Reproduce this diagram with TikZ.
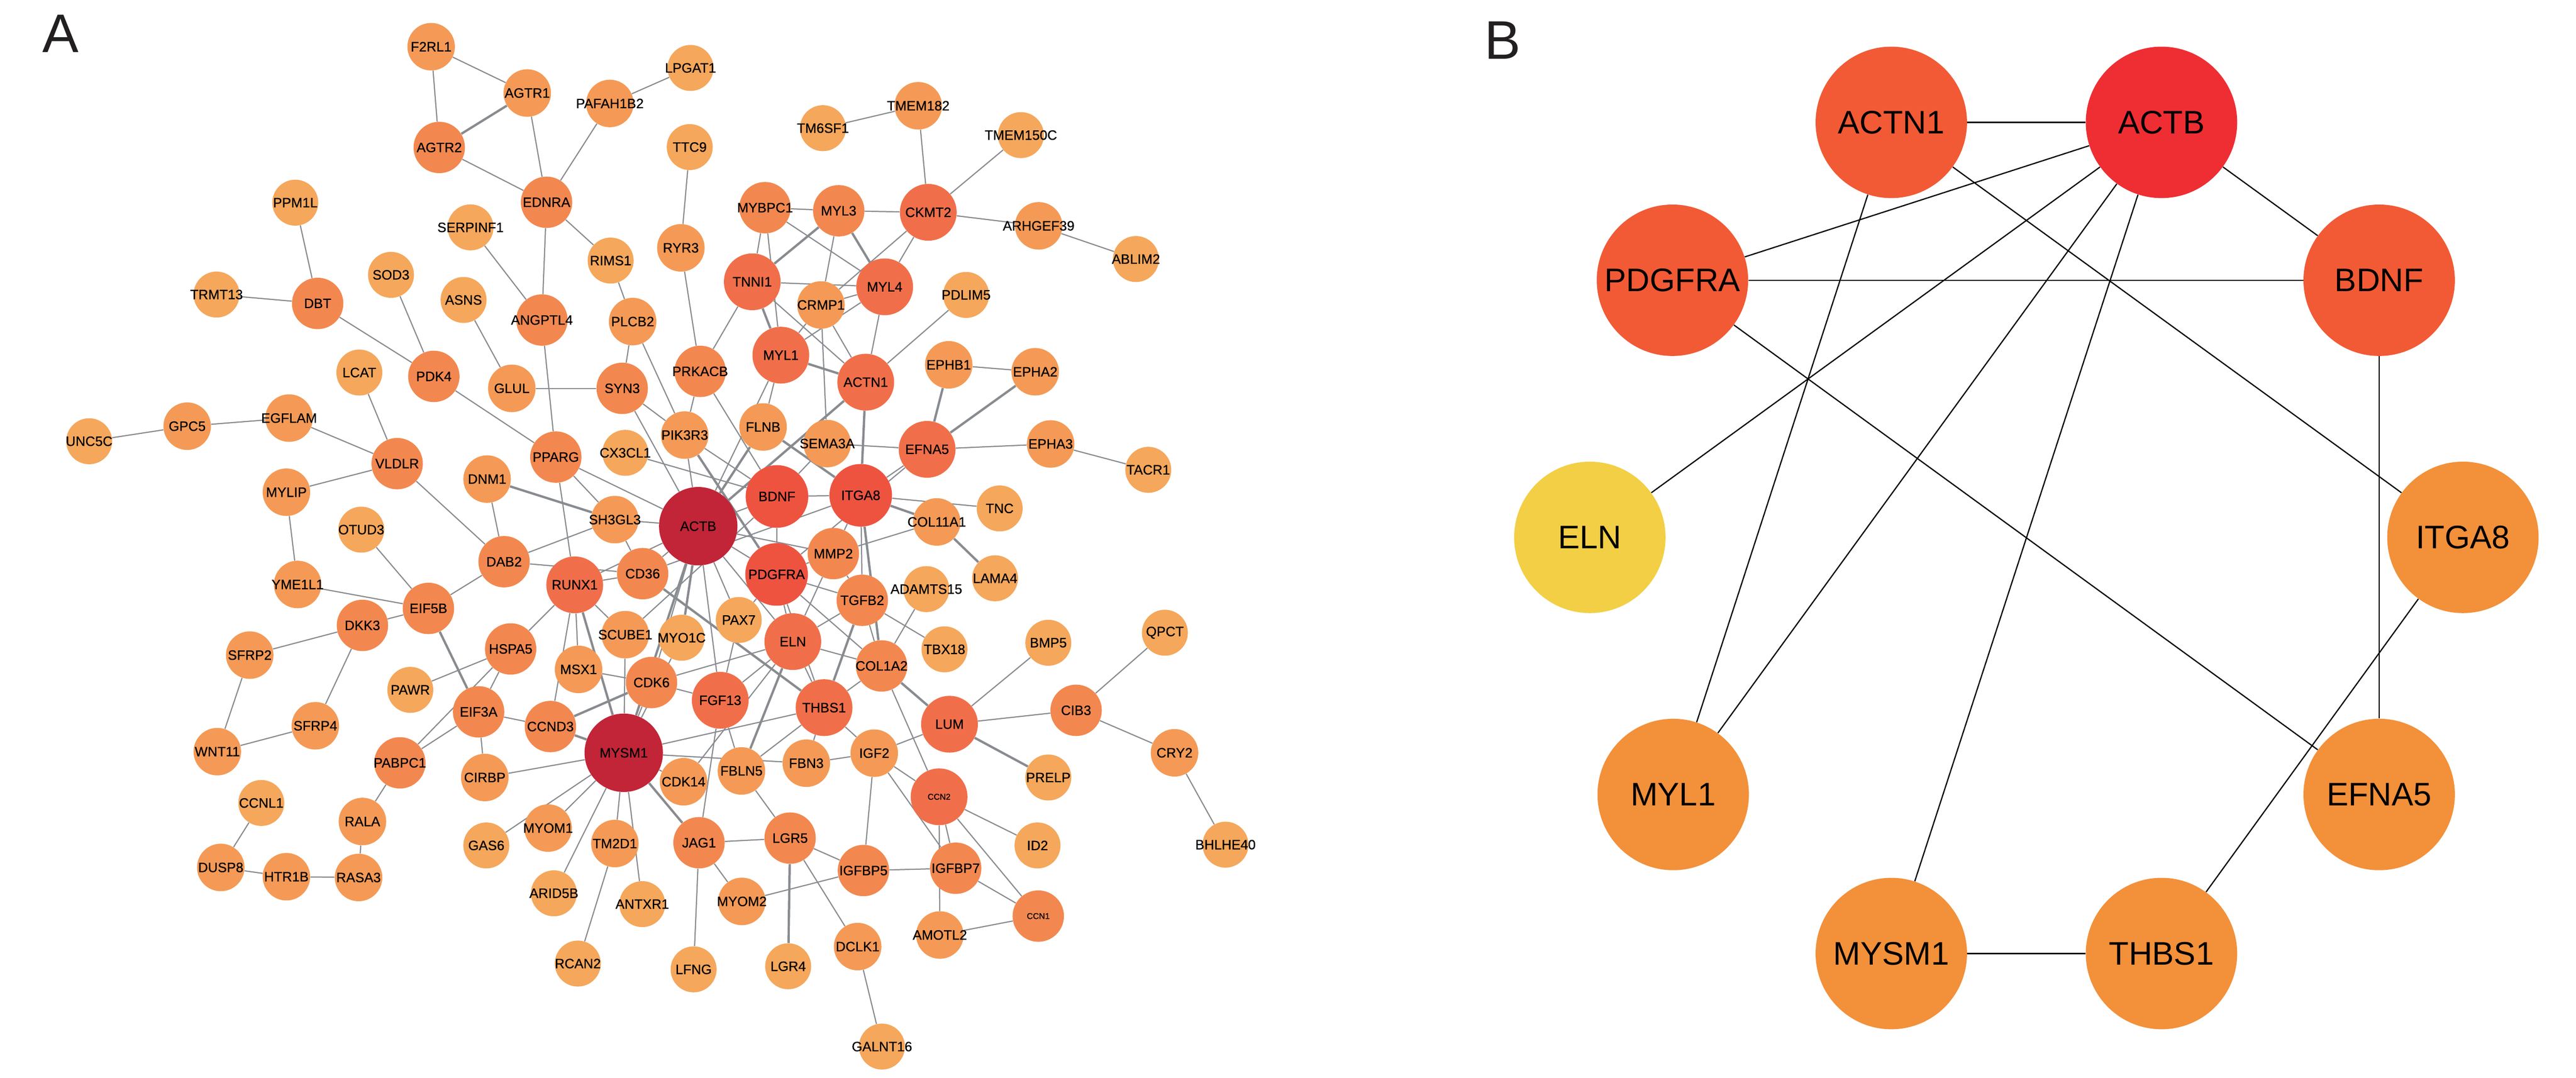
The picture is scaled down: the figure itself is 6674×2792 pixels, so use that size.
\documentclass[tikz,border=0pt]{standalone}
\usepackage{fontspec}
\setmainfont{Liberation Sans}
\newfontfamily\genefont[FakeBold=0.6]{Liberation Sans}
\usepackage{tikz}
\usetikzlibrary{backgrounds}
\definecolor{cHub}{HTML}{C12537}
\definecolor{cHi}{HTML}{EE5340}
\definecolor{cRd}{HTML}{F06F4A}
\definecolor{cOr}{HTML}{F2884F}
\definecolor{cMi}{HTML}{F49A56}
\definecolor{cLo}{HTML}{F5A75C}
\definecolor{cEdge}{HTML}{888B8F}
\definecolor{cLetter}{HTML}{231F20}
\definecolor{bRed}{HTML}{EE2E33}
\definecolor{bOrange}{HTML}{F15A35}
\definecolor{bAmber}{HTML}{F3903A}
\definecolor{bYellow}{HTML}{F3CF45}
\tikzset{
    gene/.style={circle,inner sep=0pt,text=black,font=\genefont\fontsize{10}{12}\selectfont,
        execute at begin node=\hbox to 0pt\bgroup\hss,execute at end node=\hss\egroup},
    pale/.style={gene,fill=cLo,minimum size=1.19cm},
    midtone/.style={gene,fill=cMi,minimum size=1.23cm},
    warm/.style={gene,fill=cOr,minimum size=1.33cm},
    hot/.style={gene,fill=cRd,minimum size=1.47cm},
    hotter/.style={gene,fill=cHi,minimum size=1.62cm},
    hub/.style={gene,fill=cHub,minimum size=2.03cm},
    smallfont/.style={font=\genefont\fontsize{6.2}{7}\selectfont},
    link/.style={draw=cEdge,line width=0.85pt},
    strong/.style={draw=cEdge,line width=1.7pt},
    bnode/.style={circle,inner sep=0pt,minimum size=3.92cm,text=black,font=\fontsize{24}{28}\selectfont},
    blink/.style={draw=black,line width=0.9pt},
    panel/.style={inner sep=0pt,anchor=base west,text=cLetter,font=\fontsize{40}{48}\selectfont},
}
\begin{document}
\begin{tikzpicture}[x=0.01cm,y=-0.01cm]
    \useasboundingbox (0,0) rectangle (6674,2792);
    \node[panel] (labA) at (110,136) {A};
    \node[panel] (labB) at (3845,153) {B};

    % panel A
    \node[midtone] (f2rl1) at (1117,121) {F2RL1};
    \node[midtone] (agtr1) at (1366,241) {AGTR1};
    \node[warm] (agtr2) at (1138,382) {AGTR2};
    \node[midtone] (pafah1b2) at (1580,268) {PAFAH1B2};
    \node[pale] (lpgat1) at (1789,176) {LPGAT1};
    \node[pale] (ttc9) at (1787,381) {TTC9};
    \node[pale] (tm6sf1) at (2132,332) {TM6SF1};
    \node[midtone] (tmem182) at (2379,274) {TMEM182};
    \node[pale] (tmem150c) at (2645,350) {TMEM150C};
    \node[warm] (ednra) at (1416,524) {EDNRA};
    \node[pale] (ppm1l) at (765,525) {PPM1L};
    \node[pale] (serpinf1) at (1219,589) {SERPINF1};
    \node[warm] (mybpc1) at (1982,538) {MYBPC1};
    \node[warm] (myl3) at (2173,546) {MYL3};
    \node[hot] (ckmt2) at (2405,550) {CKMT2};
    \node[midtone] (arhgef39) at (2691,585) {ARHGEF39};
    \node[pale] (ablim2) at (2943,671) {ABLIM2};
    \node[pale] (rims1) at (1582,675) {RIMS1};
    \node[midtone] (ryr3) at (1764,642) {RYR3};
    \node[pale] (sod3) at (1013,712) {SOD3};
    \node[hot] (tnni1) at (1949,730) {TNNI1};
    \node[hot] (myl4) at (2292,743) {MYL4};
    \node[pale] (trmt13) at (561,763) {TRMT13};
    \node[warm] (dbt) at (823,786) {DBT};
    \node[pale] (asns) at (1201,777) {ASNS};
    \node[midtone] (crmp1) at (2127,790) {CRMP1};
    \node[pale] (pdlim5) at (2503,764) {PDLIM5};
    \node[warm] (angptl4) at (1404,829) {ANGPTL4};
    \node[midtone] (plcb2) at (1639,833) {PLCB2};
    \node[hot] (myl1) at (2023,920) {MYL1};
    \node[warm] (prkacb) at (1814,962) {PRKACB};
    \node[pale] (lcat) at (931,965) {LCAT};
    \node[warm] (pdk4) at (1124,975) {PDK4};
    \node[hot] (actn1) at (2243,990) {ACTN1};
    \node[midtone] (ephb1) at (2458,945) {EPHB1};
    \node[midtone] (epha2) at (2682,963) {EPHA2};
    \node[midtone] (glul) at (1326,1006) {GLUL};
    \node[warm] (syn3) at (1612,1006) {SYN3};
    \node[midtone] (egflam) at (749,1083) {EGFLAM};
    \node[midtone] (gpc5) at (485,1104) {GPC5};
    \node[pale] (unc5c) at (231,1143) {UNC5C};
    \node[midtone] (flnb) at (1977,1106) {FLNB};
    \node[midtone] (pik3r3) at (1774,1127) {PIK3R3};
    \node[midtone] (sema3a) at (2143,1149) {SEMA3A};
    \node[hot] (efna5) at (2402,1164) {EFNA5};
    \node[midtone] (epha3) at (2722,1150) {EPHA3};
    \node[pale] (tacr1) at (2975,1217) {TACR1};
    \node[pale] (cx3cl1) at (1620,1173) {CX3CL1};
    \node[warm] (pparg) at (1440,1184) {PPARG};
    \node[warm] (vldlr) at (1029,1201) {VLDLR};
    \node[midtone] (dnm1) at (1262,1241) {DNM1};
    \node[midtone] (mylip) at (742,1275) {MYLIP};
    \node[hotter] (bdnf) at (2013,1286) {BDNF};
    \node[hotter] (itga8) at (2230,1283) {ITGA8};
    \node[pale] (tnc) at (2590,1317) {TNC};
    \node[midtone] (sh3gl3) at (1593,1346) {SH3GL3};
    \node[hub] (actb) at (1809,1363) {ACTB};
    \node[midtone] (col11a1) at (2427,1352) {COL11A1};
    \node[pale] (otud3) at (936,1372) {OTUD3};
    \node[warm] (dab2) at (1306,1455) {DAB2};
    \node[warm] (mmp2) at (2159,1434) {MMP2};
    \node[hot] (runx1) at (1489,1515) {RUNX1};
    \node[warm] (cd36) at (1665,1486) {CD36};
    \node[hotter] (pdgfra) at (2012,1488) {PDGFRA};
    \node[pale] (lama4) at (2578,1498) {LAMA4};
    \node[midtone] (yme1l1) at (771,1514) {YME1L1};
    \node[warm] (eif5b) at (1110,1576) {EIF5B};
    \node[warm] (tgfb2) at (2234,1555) {TGFB2};
    \node[pale] (adamts15) at (2400,1526) {ADAMTS15};
    \node[warm] (dkk3) at (939,1620) {DKK3};
    \node[pale] (pax7) at (1914,1606) {PAX7};
    \node[midtone] (scube1) at (1620,1644) {SCUBE1};
    \node[pale] (myo1c) at (1766,1652) {MYO1C};
    \node[hot] (eln) at (2054,1662) {ELN};
    \node[pale] (qpct) at (3018,1639) {QPCT};
    \node[pale] (bmp5) at (2716,1665) {BMP5};
    \node[warm] (hspa5) at (1323,1681) {HSPA5};
    \node[pale] (tbx18) at (2447,1682) {TBX18};
    \node[midtone] (sfrp2) at (647,1697) {SFRP2};
    \node[midtone] (msx1) at (1499,1734) {MSX1};
    \node[warm] (col1a2) at (2284,1725) {COL1A2};
    \node[warm] (cdk6) at (1688,1768) {CDK6};
    \node[pale] (pawr) at (1063,1787) {PAWR};
    \node[hot] (fgf13) at (1866,1814) {FGF13};
    \node[hot] (thbs1) at (2135,1833) {THBS1};
    \node[warm] (cib3) at (2788,1840) {CIB3};
    \node[warm] (eif3a) at (1240,1844) {EIF3A};
    \node[midtone] (sfrp4) at (817,1880) {SFRP4};
    \node[warm] (ccnd3) at (1426,1882) {CCND3};
    \node[hot] (lum) at (2460,1876) {LUM};
    \node[midtone] (wnt11) at (563,1947) {WNT11};
    \node[hub] (mysm1) at (1616,1950) {MYSM1};
    \node[midtone] (igf2) at (2265,1951) {IGF2};
    \node[midtone] (cry2) at (3043,1950) {CRY2};
    \node[warm] (pabpc1) at (1036,1976) {PABPC1};
    \node[midtone] (fbn3) at (2089,1977) {FBN3};
    \node[midtone] (fbln5) at (1921,1997) {FBLN5};
    \node[midtone] (cirbp) at (1256,2014) {CIRBP};
    \node[pale] (prelp) at (2716,2014) {PRELP};
    \node[midtone] (cdk14) at (1771,2025) {CDK14};
    \node[hot,smallfont] (ccn2) at (2433,2064) {CCN2};
    \node[pale] (ccnl1) at (677,2080) {CCNL1};
    \node[midtone] (rala) at (939,2128) {RALA};
    \node[midtone] (myom1) at (1420,2145) {MYOM1};
    \node[midtone] (tm2d1) at (1593,2185) {TM2D1};
    \node[warm] (jag1) at (1811,2183) {JAG1};
    \node[warm] (lgr5) at (2047,2171) {LGR5};
    \node[pale] (gas6) at (1260,2190) {GAS6};
    \node[pale] (id2) at (2688,2190) {ID2};
    \node[pale] (bhlhe40) at (3175,2188) {BHLHE40};
    \node[midtone] (dusp8) at (572,2247) {DUSP8};
    \node[warm] (igfbp7) at (2476,2249) {IGFBP7};
    \node[warm] (igfbp5) at (2237,2255) {IGFBP5};
    \node[midtone] (htr1b) at (742,2271) {HTR1B};
    \node[midtone] (rasa3) at (929,2273) {RASA3};
    \node[pale] (arid5b) at (1435,2314) {ARID5B};
    \node[midtone] (myom2) at (1922,2335) {MYOM2};
    \node[pale] (antxr1) at (1664,2342) {ANTXR1};
    \node[warm,smallfont] (ccn1) at (2690,2373) {CCN1};
    \node[midtone] (amotl2) at (2435,2422) {AMOTL2};
    \node[midtone] (dclk1) at (2222,2452) {DCLK1};
    \node[pale] (rcan2) at (1497,2496) {RCAN2};
    \node[pale] (lgr4) at (2042,2503) {LGR4};
    \node[pale] (lfng) at (1797,2511) {LFNG};
    \node[pale] (galnt16) at (2285,2711) {GALNT16};

    % panel B
    \node[bnode,fill=bOrange] (Bactn1) at (4900,317) {ACTN1};
    \node[bnode,fill=bRed] (Bactb) at (5600,317) {ACTB};
    \node[bnode,fill=bOrange] (Bpdgfra) at (4333,726) {PDGFRA};
    \node[bnode,fill=bOrange] (Bbdnf) at (6164,726) {BDNF};
    \node[bnode,fill=bYellow] (Beln) at (4119,1392) {ELN};
    \node[bnode,fill=bAmber] (Bitga8) at (6381,1392) {ITGA8};
    \node[bnode,fill=bAmber] (Bmyl1) at (4335,2058) {MYL1};
    \node[bnode,fill=bAmber] (Befna5) at (6164,2058) {EFNA5};
    \node[bnode,fill=bAmber] (Bmysm1) at (4900,2470) {MYSM1};
    \node[bnode,fill=bAmber] (Bthbs1) at (5600,2470) {THBS1};

    \begin{scope}[on background layer]
        \draw[link] (f2rl1) -- (agtr1);
        \draw[link] (f2rl1) -- (agtr2);
        \draw[strong] (agtr2) -- (agtr1);
        \draw[link] (agtr2) -- (ednra);
        \draw[link] (agtr1) -- (ednra);
        \draw[link] (pafah1b2) -- (ednra);
        \draw[link] (pafah1b2) -- (lpgat1);
        \draw[link] (ednra) -- (rims1);
        \draw[link] (ednra) -- (angptl4);
        \draw[link] (serpinf1) -- (angptl4);
        \draw[link] (angptl4) -- (pparg);
        \draw[link] (rims1) -- (plcb2);
        \draw[link] (plcb2) -- (syn3);
        \draw[link] (plcb2) -- (pik3r3);
        \draw[link] (ttc9) -- (ryr3);
        \draw[link] (ryr3) -- (prkacb);
        \draw[link] (tm6sf1) -- (tmem182);
        \draw[link] (tmem182) -- (ckmt2);
        \draw[link] (ckmt2) -- (tmem150c);
        \draw[link] (ckmt2) -- (arhgef39);
        \draw[link] (arhgef39) -- (ablim2);
        \draw[link] (ppm1l) -- (dbt);
        \draw[link] (trmt13) -- (dbt);
        \draw[link] (dbt) -- (pdk4);
        \draw[link] (sod3) -- (pdk4);
        \draw[link] (pdk4) -- (pparg);
        \draw[link] (asns) -- (glul);
        \draw[link] (glul) -- (syn3);
        \draw[link] (lcat) -- (vldlr);
        \draw[link] (egflam) -- (gpc5);
        \draw[link] (gpc5) -- (unc5c);
        \draw[link] (egflam) -- (vldlr);
        \draw[link] (mylip) -- (vldlr);
        \draw[link] (mylip) -- (yme1l1);
        \draw[link] (vldlr) -- (dab2);
        \draw[link] (dnm1) -- (dab2);
        \draw[strong] (dnm1) -- (sh3gl3);
        \draw[link] (otud3) -- (eif5b);
        \draw[link] (yme1l1) -- (eif5b);
        \draw[link] (eif5b) -- (dab2);
        \draw[link] (eif5b) -- (dkk3);
        \draw[link] (dkk3) -- (sfrp2);
        \draw[link] (dkk3) -- (sfrp4);
        \draw[link] (sfrp2) -- (wnt11);
        \draw[link] (sfrp4) -- (wnt11);
        \draw[strong] (eif5b) -- (eif3a);
        \draw[link] (pawr) -- (hspa5);
        \draw[link] (hspa5) -- (pabpc1);
        \draw[link] (eif3a) -- (pabpc1);
        \draw[link] (eif3a) -- (cirbp);
        \draw[link] (eif3a) -- (ccnd3);
        \draw[link] (eif3a) -- (hspa5);
        \draw[link] (pabpc1) -- (rala);
        \draw[link] (rala) -- (rasa3);
        \draw[link] (rasa3) -- (htr1b);
        \draw[link] (htr1b) -- (dusp8);
        \draw[link] (dusp8) -- (ccnl1);
        \draw[link] (mybpc1) -- (myl3);
        \draw[link] (myl3) -- (ckmt2);
        \draw[link] (mybpc1) -- (tnni1);
        \draw[link] (mybpc1) -- (myl1);
        \draw[link] (mybpc1) -- (myl4);
        \draw[strong] (myl3) -- (tnni1);
        \draw[link] (myl3) -- (crmp1);
        \draw[strong] (myl3) -- (myl4);
        \draw[link] (ckmt2) -- (myl4);
        \draw[link] (ckmt2) -- (crmp1);
        \draw[link] (tnni1) -- (myl4);
        \draw[link] (crmp1) -- (myl4);
        \draw[link] (myl4) -- (myl1);
        \draw[strong] (tnni1) -- (myl1);
        \draw[link] (tnni1) -- (actn1);
        \draw[link] (tnni1) -- (prkacb);
        \draw[link] (crmp1) -- (myl1);
        \draw[link] (crmp1) -- (actn1);
        \draw[link] (crmp1) -- (sema3a);
        \draw[link] (myl4) -- (actn1);
        \draw[strong] (myl1) -- (actn1);
        \draw[link] (myl1) -- (flnb);
        \draw[link] (actn1) -- (pdlim5);
        \draw[strong] (actn1) -- (itga8);
        \draw[strong] (actb) -- (actn1);
        \draw[link] (actb) -- (myl1);
        \draw[link] (prkacb) -- (pik3r3);
        \draw[link] (pik3r3) -- (actb);
        \draw[link] (prkacb) -- (bdnf);
        \draw[link] (pik3r3) -- (bdnf);
        \draw[strong] (pik3r3) -- (pdgfra);
        \draw[link] (syn3) -- (pik3r3);
        \draw[link] (syn3) -- (actb);
        \draw[link] (cx3cl1) -- (bdnf);
        \draw[link] (pparg) -- (actb);
        \draw[link] (pparg) -- (sh3gl3);
        \draw[link] (pparg) -- (runx1);
        \draw[link] (sh3gl3) -- (actb);
        \draw[link] (dab2) -- (sh3gl3);
        \draw[link] (sh3gl3) -- (cd36);
        \draw[link] (dab2) -- (cd36);
        \draw[link] (runx1) -- (cd36);
        \draw[link] (cd36) -- (actb);
        \draw[link] (runx1) -- (actb);
        \draw[strong] (cd36) -- (thbs1);
        \draw[link] (cd36) -- (itga8);
        \draw[link] (scube1) -- (bdnf);
        \draw[strong] (actb) -- (myo1c);
        \draw[strong] (actb) -- (mysm1);
        \draw[link] (actb) -- (fgf13);
        \draw[link] (actb) -- (pax7);
        \draw[link] (actb) -- (eln);
        \draw[link] (actb) -- (pdgfra);
        \draw[link] (actb) -- (bdnf);
        \draw[strong] (actb) -- (flnb);
        \draw[link] (actb) -- (mmp2);
        \draw[link] (actb) -- (cdk6);
        \draw[link] (bdnf) -- (itga8);
        \draw[link] (bdnf) -- (sema3a);
        \draw[link] (bdnf) -- (pdgfra);
        \draw[strong] (flnb) -- (itga8);
        \draw[link] (itga8) -- (efna5);
        \draw[link] (pdgfra) -- (efna5);
        \draw[link] (itga8) -- (mmp2);
        \draw[link] (itga8) -- (tgfb2);
        \draw[strong] (itga8) -- (col1a2);
        \draw[strong] (itga8) -- (col11a1);
        \draw[link] (itga8) -- (tnc);
        \draw[link] (mmp2) -- (col11a1);
        \draw[strong] (col11a1) -- (lama4);
        \draw[link] (mmp2) -- (pdgfra);
        \draw[link] (mmp2) -- (tgfb2);
        \draw[link] (mmp2) -- (eln);
        \draw[link] (pdgfra) -- (tgfb2);
        \draw[link] (pdgfra) -- (col1a2);
        \draw[link] (pdgfra) -- (thbs1);
        \draw[link] (pdgfra) -- (eln);
        \draw[link] (pdgfra) -- (pax7);
        \draw[link] (eln) -- (tgfb2);
        \draw[link] (eln) -- (col1a2);
        \draw[link] (eln) -- (thbs1);
        \draw[strong] (eln) -- (fbln5);
        \draw[link] (eln) -- (fgf13);
        \draw[link] (eln) -- (cdk6);
        \draw[strong] (tgfb2) -- (thbs1);
        \draw[link] (tgfb2) -- (col1a2);
        \draw[link] (tgfb2) -- (tbx18);
        \draw[link] (col1a2) -- (adamts15);
        \draw[strong] (col1a2) -- (lum);
        \draw[link] (col1a2) -- (ccn2);
        \draw[link] (col1a2) -- (thbs1);
        \draw[link] (thbs1) -- (igf2);
        \draw[link] (thbs1) -- (fbln5);
        \draw[link] (thbs1) -- (fbn3);
        \draw[link] (thbs1) -- (mysm1);
        \draw[link] (lum) -- (bmp5);
        \draw[link] (lum) -- (cib3);
        \draw[strong] (lum) -- (prelp);
        \draw[link] (lum) -- (igf2);
        \draw[link] (cib3) -- (qpct);
        \draw[link] (cib3) -- (cry2);
        \draw[link] (cry2) -- (bhlhe40);
        \draw[link] (ccn2) -- (id2);
        \draw[link] (ccn2) -- (igfbp7);
        \draw[link] (ccn2) -- (amotl2);
        \draw[link] (ccn2) -- (ccn1);
        \draw[link] (ccn2) -- (igf2);
        \draw[link] (igfbp7) -- (ccn1);
        \draw[link] (amotl2) -- (ccn1);
        \draw[link] (igfbp7) -- (igfbp5);
        \draw[link] (igfbp7) -- (igf2);
        \draw[link] (igf2) -- (igfbp5);
        \draw[link] (igf2) -- (fbn3);
        \draw[link] (fbln5) -- (lgr5);
        \draw[link] (fbln5) -- (fgf13);
        \draw[strong] (lgr5) -- (lgr4);
        \draw[link] (lgr5) -- (jag1);
        \draw[link] (lgr5) -- (igfbp5);
        \draw[link] (lgr5) -- (dclk1);
        \draw[link] (myom2) -- (igfbp5);
        \draw[link] (myom2) -- (jag1);
        \draw[link] (jag1) -- (lfng);
        \draw[strong] (jag1) -- (mysm1);
        \draw[link] (jag1) -- (fgf13);
        \draw[link] (dclk1) -- (galnt16);
        \draw[strong] (mysm1) -- (runx1);
        \draw[link] (mysm1) -- (scube1);
        \draw[link] (mysm1) -- (myo1c);
        \draw[link] (mysm1) -- (cdk6);
        \draw[strong] (mysm1) -- (ccnd3);
        \draw[link] (mysm1) -- (cirbp);
        \draw[link] (mysm1) -- (gas6);
        \draw[link] (mysm1) -- (myom1);
        \draw[link] (mysm1) -- (arid5b);
        \draw[link] (mysm1) -- (tm2d1);
        \draw[link] (mysm1) -- (antxr1);
        \draw[link] (mysm1) -- (cdk14);
        \draw[link] (mysm1) -- (fbn3);
        \draw[link] (tm2d1) -- (rcan2);
        \draw[link] (cdk14) -- (eln);
        \draw[strong] (ccnd3) -- (cdk6);
        \draw[link] (ccnd3) -- (runx1);
        \draw[link] (hspa5) -- (runx1);
        \draw[link] (msx1) -- (runx1);
        \draw[link] (msx1) -- (cdk6);
        \draw[link] (cdk6) -- (fgf13);
        \draw[link] (scube1) -- (runx1);
        \draw[link] (pax7) -- (fgf13);
        \draw[strong] (ephb1) -- (efna5);
        \draw[link] (ephb1) -- (epha2);
        \draw[strong] (efna5) -- (epha2);
        \draw[link] (efna5) -- (epha3);
        \draw[link] (epha3) -- (tacr1);
        \draw[link] (sema3a) -- (efna5);

        \draw[blink] (Bactn1) -- (Bactb);
        \draw[blink] (Bactb) -- (Bpdgfra);
        \draw[blink] (Bactb) -- (Bbdnf);
        \draw[blink] (Bactb) -- (Beln);
        \draw[blink] (Bactb) -- (Bmyl1);
        \draw[blink] (Bactb) -- (Bmysm1);
        \draw[blink] (Bactn1) -- (Bmyl1);
        \draw[blink] (Bactn1) -- (Bitga8);
        \draw[blink] (Bpdgfra) -- (Bbdnf);
        \draw[blink] (Bpdgfra) -- (Befna5);
        \draw[blink] (Bbdnf) -- (Befna5);
        \draw[blink] (Bitga8) -- (Bthbs1);
        \draw[blink] (Bmysm1) -- (Bthbs1);
    \end{scope}
\end{tikzpicture}
\end{document}
